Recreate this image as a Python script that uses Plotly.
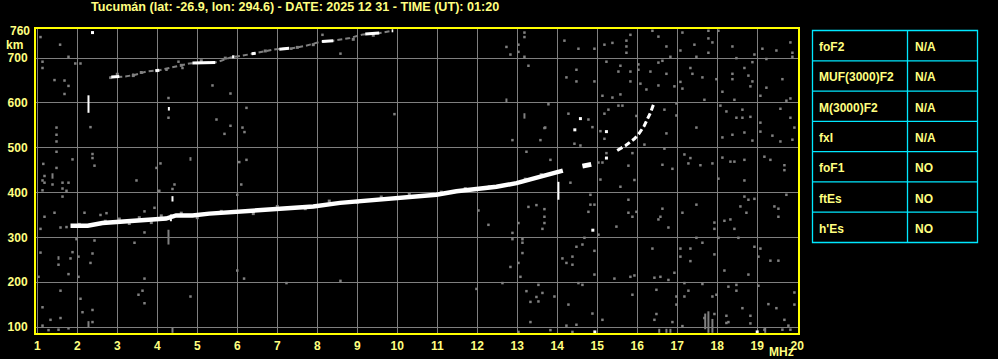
import plotly.graph_objects as go

# ---------------- data ----------------
TITLE = "Tucumán (lat: -26.9, lon: 294.6) - DATE: 2025 12 31 - TIME (UT): 01:20"
x_tick_vals = list(range(1, 21))
x_tick_text = [str(v) for v in x_tick_vals]
y_tick_vals = [100, 200, 300, 400, 500, 600, 700]
y_top_label = 760
x_unit = "MHz"
y_unit = "km"

# main F-trace (virtual height vs frequency)
main_f = [1.83, 2.26, 2.63, 3.22, 3.72, 4.22, 4.47, 4.88, 5.30, 5.97, 6.63, 7.35, 7.90,
          8.57, 9.40, 9.98, 10.48, 10.98, 11.48, 12.07, 12.48, 12.98, 13.48, 13.72, 13.92, 14.14]
main_km = [326, 326, 332, 336, 338, 342, 349, 349, 353, 357, 360, 365, 369,
           377, 384, 388, 393, 395, 403, 408, 413, 421, 433, 437, 444, 449]

blob_f = [14.63, 14.85]
blob_km = [459, 463]

cusp_f = [15.50, 15.71, 15.93, 16.04, 16.17, 16.25, 16.33, 16.43]
cusp_km = [494, 505, 520, 531, 548, 563, 578, 602]

# second-hop trace
upper_f = [2.80, 3.20, 3.45, 3.72, 4.05, 4.50, 4.80, 5.50, 5.85, 6.10, 6.40, 6.97, 7.37,
           7.69, 8.10, 8.40, 8.82, 9.15, 9.57, 9.88]
upper_km = [657, 659, 663, 670, 673, 682, 688, 691, 702, 705, 710, 720, 722,
            727, 737, 739, 745, 753, 756, 761]
upper_white_f = [2.85, 3.05, None, 3.95, 4.05, None, 4.88, 5.45, None, 5.87, 5.93, None,
                 6.36, 6.46, None, 7.05, 7.30, None, 8.12, 8.40, None, 9.20, 9.55, None, 9.86, 9.90]
upper_white_km = [658, 659, None, 672, 673, None, 689, 690, None, 703, 703, None,
                  710, 711, None, 720, 722, None, 737, 739, None, 754, 756, None, 761, 761]

# vertical white echo spikes
spike_f = [2.28, 4.29, 4.38, 4.34, 14.03]
spike_top = [617, 591, 392, 351, 424]
spike_bot = [578, 583, 380, 336, 384]

# isolated white points
white_f = [2.38, 14.58, 14.44, 15.23, 15.23, 14.89, 14.94, 19.00]
white_km = [757, 565, 540, 536, 477, 316, 89, 89]

# grey vertical noise streaks
bar_f = [4.28, 4.38, 1.38, 1.53, 2.28, 4.83, 12.73, 13.18, 17.70, 17.78, 17.88, 16.55, 16.73, 16.83, 19.20]
bar_lo = [284, 87, 431, 250, 100, 471, 600, 565, 95, 87, 87, 87, 87, 87, 87]
bar_hi = [317, 99, 443, 258, 113, 479, 610, 577, 130, 135, 118, 96, 96, 96, 98]

# grey flecks along the traces
fleck_f = [2.05, 2.70, 3.05, 3.30, 3.55, 3.85, 4.10, 4.60, 5.00, 5.60, 6.40, 7.00, 7.70,
           8.30, 9.00, 9.60, 10.30, 11.10, 11.70, 12.30, 12.80, 13.20, 13.60,
           3.00, 3.40, 3.60, 4.60, 5.10, 5.70, 6.70, 7.50, 7.90, 8.90, 9.40]
fleck_km = [329, 336, 341, 331, 344, 333, 348, 354, 344, 358, 353, 369, 364,
            381, 378, 390, 397, 401, 409, 413, 418, 430, 440,
            664, 661, 668, 684, 694, 700, 716, 724, 730, 742, 751]

# grey scattered noise points
noise_f = [1.08, 1.57, 1.78, 1.13, 1.13, 1.95, 2.08, 1.43, 1.68, 1.78, 1.68, 2.83, 3.40, 4.23,
           4.53, 4.63, 5.38, 5.83, 6.23, 5.48, 5.83, 6.13, 6.18, 5.68, 4.28, 4.28, 2.33, 1.48,
           1.48, 1.48, 1.48, 2.38, 2.38, 2.43, 1.88, 1.15, 1.48, 1.18, 1.13, 1.18, 1.63, 1.78,
           1.38, 1.63, 1.73, 1.13, 1.63, 3.48, 3.98, 4.08, 4.43, 4.38, 4.05, 6.00, 6.10, 6.05,
           6.23, 1.43, 1.18, 1.08, 1.58, 1.73, 2.18, 2.58, 2.73, 3.68, 3.93, 3.68, 3.43, 2.43,
           1.98, 1.08, 1.88, 1.83, 2.03, 2.38, 1.53, 2.33, 1.78, 2.03, 1.03, 3.68, 3.63, 3.53,
           3.68, 4.83, 1.58, 2.08, 1.13, 2.38, 2.13, 1.58, 1.33, 2.38, 1.13, 1.28, 1.53, 1.78,
           6.17, 6.00, 7.23,
           8.13, 8.58, 7.35, 13.18, 13.18, 13.03, 13.03, 12.73, 12.83, 13.18, 13.28, 9.93,
           13.68, 12.88, 13.58, 13.23, 12.03, 12.28, 13.28, 13.48, 13.68, 13.68, 13.68, 13.63,
           13.03, 12.88, 12.88, 13.13, 13.13, 13.13, 13.03, 12.83, 13.08, 12.63, 11.98, 13.53,
           13.23, 13.63, 13.48, 13.53, 13.33, 13.33, 13.03, 8.58,
           14.18, 14.53, 14.93, 15.18, 15.38, 15.73, 15.73, 15.83, 15.73, 16.38, 16.53, 17.13,
           16.73, 17.08, 17.43, 17.78, 17.78, 17.88, 17.78, 18.03, 18.38, 18.93, 19.13, 19.48,
           19.83, 19.88, 19.88, 18.48, 18.88, 19.23, 16.83, 16.53, 16.63, 17.48, 15.23, 15.58,
           15.53, 15.83, 16.03, 16.03, 16.33, 16.73, 17.33, 17.38, 14.48, 14.48, 14.23, 14.93,
           15.83, 16.08, 16.53, 16.93, 17.08, 17.13, 17.63, 17.98, 18.13, 18.38, 18.38, 18.68,
           18.78, 18.83, 18.88, 19.23, 19.63, 19.83, 19.73, 19.08, 18.43, 17.68, 16.98, 16.23,
           15.13, 15.38, 15.58, 15.53, 15.63, 15.28, 15.18, 13.78, 14.28, 14.78, 14.88, 13.70,
           15.98, 16.68, 16.98, 18.08, 18.23, 18.63, 18.48, 18.63, 18.83, 19.08, 19.08, 19.93,
           19.83, 19.58, 17.48, 18.13, 18.38, 18.68, 18.88, 19.38, 19.58, 19.88, 16.73, 15.08,
           15.18, 14.43, 14.58, 16.18, 16.68, 15.88, 15.23, 15.13, 15.03, 15.78, 16.63, 16.88,
           17.18, 17.33, 17.28, 17.58, 17.88, 18.13, 18.33, 18.43, 18.68, 19.33, 19.68, 19.68,
           19.18, 18.03, 18.68, 15.93, 15.58, 15.08, 14.33, 13.83, 14.83, 15.78, 14.83, 14.78,
           14.93, 15.98, 15.78, 15.88, 16.58, 16.53, 16.63, 17.13, 17.48, 18.58, 18.68, 18.78,
           18.93, 18.73, 19.43, 19.53, 19.53, 19.73, 18.18, 18.33, 18.43, 17.93, 17.93, 15.48,
           16.78, 15.03, 14.68, 17.48, 18.03, 18.53, 17.63, 18.93, 19.08, 14.48, 14.63, 14.38,
           14.13, 14.23, 14.38, 14.93, 16.38, 17.08, 17.33, 17.08, 17.33, 17.93, 18.18, 18.78,
           19.03, 19.33, 19.53, 14.93, 15.43, 15.83, 15.93, 16.43, 16.58, 16.78, 16.93, 14.53,
           14.63, 17.18, 17.63, 18.28, 18.48, 18.48, 19.03, 15.88, 16.48, 16.98, 16.98, 17.28,
           17.18, 17.88, 17.98, 19.93, 19.93, 19.28, 19.48, 13.93, 14.28, 14.88, 15.13, 14.48,
           14.23, 16.48, 16.43, 16.88, 17.13, 17.68, 17.93, 18.23, 18.23, 18.28, 18.83, 18.83,
           19.78, 19.68, 18.63, 13.83, 14.38, 19.18, 19.63, 19.83]
noise_km = [747, 730, 703, 692, 678, 688, 688, 651, 650, 638, 620, 656, 663, 674,
            692, 678, 639, 621, 589, 563, 549, 545, 535, 531, 611, 567, 546, 545,
            529, 514, 491, 486, 477, 460, 474, 464, 455, 437, 427, 422, 422, 422,
            418, 409, 404, 405, 391, 427, 455, 465, 418, 408, 404, 395, 418, 468,
            473, 355, 346, 319, 322, 323, 355, 350, 354, 358, 366, 311, 288, 293,
            296, 266, 267, 253, 257, 264, 239, 243, 218, 212, 212, 208, 181, 172,
            153, 168, 181, 163, 144, 138, 133, 120, 116, 111, 103, 93, 94, 97,
            208, 226, 198,
            752, 710, 721, 757, 747, 730, 714, 725, 708, 703, 683, 575,
            544, 517, 517, 491, 360, 328, 368, 372, 363, 346, 332, 319,
            332, 310, 296, 296, 288, 265, 243, 234, 212, 198, 185, 194,
            180, 176, 167, 157, 156, 111, 89, 203,
            739, 721, 721, 730, 734, 739, 726, 752, 712, 761, 748, 757,
            726, 717, 730, 761, 744, 735, 712, 761, 726, 708, 721, 717,
            735, 712, 703, 700, 691, 698, 703, 690, 694, 703, 692, 683,
            670, 670, 674, 686, 670, 665, 678, 665, 674, 648, 657, 648,
            648, 643, 639, 637, 647, 632, 657, 653, 625, 665, 653, 678,
            661, 637, 648, 634, 653, 610, 605, 616, 607, 607, 599, 630,
            616, 612, 619, 594, 594, 585, 576, 597, 576, 563, 546, 545,
            571, 585, 572, 594, 581, 585, 567, 567, 569, 556, 536, 545,
            567, 587, 545, 523, 529, 534, 516, 527, 514, 518, 532, 537,
            520, 509, 505, 507, 498, 488, 488, 467, 467, 460, 462, 453,
            485, 477, 465, 461, 465, 478, 469, 469, 473, 473, 461, 450,
            480, 431, 427, 428, 413, 429, 422, 473, 395, 384, 373, 357,
            373, 357, 355, 346, 346, 340, 364, 355, 373, 369, 391, 384,
            386, 355, 369, 364, 346, 395, 337, 340, 319, 333, 319, 324,
            322, 306, 299, 299, 299, 299, 288, 279, 275, 279, 284, 257,
            253, 243, 239, 270, 275, 275, 275, 257, 247, 262, 226, 217,
            257, 248, 248, 217, 208, 212, 215, 210, 212, 205, 221, 198,
            194, 198, 196, 190, 194, 181, 192, 172, 183, 168, 150, 181,
            168, 168, 172, 177, 150, 151, 142, 168, 150, 130, 116, 105,
            103, 129, 116, 111, 102, 120, 129, 125, 109, 111, 125, 108,
            103, 116, 142, 93, 89, 94, 94, 94]

# parameter table
param_names = ["foF2", "MUF(3000)F2", "M(3000)F2", "fxI", "foF1", "ftEs", "h'Es"]
param_values = ["N/A", "N/A", "N/A", "N/A", "NO", "NO", "NO"]

# ---------------- styling / layout ----------------
W, H = 998, 359
PL, PR, PT, PB = 36, 798, 29, 333
TXT = "#ffff80"
AXIS = "#ffff00"
GRID = "#7f7f7f"
NOISE = "#808080"
CYAN = "#00e8ff"
FONT = "Liberation Sans"


def px(x):
    return (x - PL) / (PR - PL)


def py(y):
    return (PB - y) / (PB - PT)


def segs(xs, y0s, y1s):
    X, Y = [], []
    for x, a, b in zip(xs, y0s, y1s):
        X += [x, x, None]
        Y += [a, b, None]
    return X, Y


fig = go.Figure()

# grey streaks
bx, by = segs(bar_f, bar_lo, bar_hi)
fig.add_trace(go.Scatter(x=bx, y=by, mode="lines", line=dict(color=NOISE, width=2),
                         hoverinfo="skip"))
# grey noise
fig.add_trace(go.Scatter(x=noise_f, y=noise_km, mode="markers",
                         marker=dict(symbol="square", size=2.5, color=NOISE, line=dict(width=0)),
                         hoverinfo="skip"))
fig.add_trace(go.Scatter(x=fleck_f, y=fleck_km, mode="markers",
                         marker=dict(symbol="square", size=3, color=NOISE, line=dict(width=0)),
                         hoverinfo="skip"))
# second-hop trace (grey underlay + white pieces)
fig.add_trace(go.Scatter(x=upper_f, y=upper_km, mode="lines",
                         line=dict(color=NOISE, width=2, dash="5px,3px"), hoverinfo="skip"))
fig.add_trace(go.Scatter(x=upper_white_f, y=upper_white_km, mode="lines",
                         line=dict(color="#ffffff", width=3), connectgaps=False, hoverinfo="skip"))
# main trace
fig.add_trace(go.Scatter(x=main_f, y=main_km, mode="lines",
                         line=dict(color="#ffffff", width=4.5), hoverinfo="skip"))
fig.add_trace(go.Scatter(x=blob_f, y=blob_km, mode="lines",
                         line=dict(color="#ffffff", width=5), hoverinfo="skip"))
fig.add_trace(go.Scatter(x=cusp_f, y=cusp_km, mode="lines",
                         line=dict(color="#ffffff", width=3, dash="6px,3px"), hoverinfo="skip"))
# spikes
sx, sy = segs(spike_f, spike_bot, spike_top)
fig.add_trace(go.Scatter(x=sx, y=sy, mode="lines", line=dict(color="#ffffff", width=2),
                         hoverinfo="skip"))
fig.add_trace(go.Scatter(x=white_f, y=white_km, mode="markers",
                         marker=dict(symbol="square", size=3, color="#ffffff", line=dict(width=0)),
                         hoverinfo="skip"))

tickfont = dict(family=FONT, size=12, color=TXT, weight="bold")

fig.update_layout(
    width=W, height=H,
    margin=dict(l=PL, r=W - PR, t=PT, b=H - PB, pad=0, autoexpand=False),
    paper_bgcolor="#000000", plot_bgcolor="#000000",
    showlegend=False,
    xaxis=dict(range=[0.9675, 20.02], tickvals=x_tick_vals, ticktext=x_tick_text,
               showgrid=True, gridcolor=GRID, gridwidth=1, zeroline=False,
               showline=True, linecolor=AXIS, linewidth=2, mirror=True, automargin=False,
               ticks="", tickfont=tickfont, ticklabelstandoff=1, fixedrange=True),
    yaxis=dict(range=[86.6, 765], tickvals=y_tick_vals,
               showgrid=True, gridcolor=GRID, gridwidth=1, zeroline=False,
               showline=True, linecolor=AXIS, linewidth=2, mirror=True, automargin=False,
               ticks="", tickfont=tickfont, ticklabelstandoff=4, fixedrange=True),
)

ann = []
ann.append(dict(text=TITLE, x=px(295), y=py(7.5), xref="paper", yref="paper",
                xanchor="center", yanchor="middle", showarrow=False,
                font=dict(family=FONT, size=12.6, color=TXT, weight="bold")))
ann.append(dict(text=str(y_top_label), x=px(32), y=y_top_label, xref="paper", yref="y",
                xanchor="right", yanchor="middle", showarrow=False, font=tickfont))
ann.append(dict(text=y_unit, x=px(14), y=py(45), xref="paper", yref="paper",
                xanchor="center", yanchor="middle", showarrow=False, font=tickfont))
ann.append(dict(text=x_unit, x=px(781), y=py(352), xref="paper", yref="paper",
                xanchor="center", yanchor="middle", showarrow=False, font=tickfont))

# table
TX0, TX1, TXM = 812.5, 977.5, 907.5
TY0, TY1 = 30.5, 242.5
n = len(param_names)
rh = (TY1 - TY0) / n
shapes = [dict(type="rect", xref="paper", yref="paper", x0=px(TX0), x1=px(TX1),
               y0=py(TY1), y1=py(TY0), line=dict(color=CYAN, width=1.3))]
shapes.append(dict(type="line", xref="paper", yref="paper", x0=px(TXM), x1=px(TXM),
                   y0=py(TY1), y1=py(TY0), line=dict(color=CYAN, width=1.3)))
for i in range(1, n):
    yy = TY0 + i * rh
    shapes.append(dict(type="line", xref="paper", yref="paper", x0=px(TX0), x1=px(TX1),
                       y0=py(yy), y1=py(yy), line=dict(color=CYAN, width=1.3)))
for i, (nm, val) in enumerate(zip(param_names, param_values)):
    yc = TY0 + (i + 0.5) * rh + 1.5
    ann.append(dict(text=nm, x=px(817), y=py(yc), xref="paper", yref="paper",
                    xanchor="left", yanchor="middle", showarrow=False,
                    font=dict(family=FONT, size=12, color=TXT, weight="bold")))
    ann.append(dict(text=val, x=px(912.5), y=py(yc), xref="paper", yref="paper",
                    xanchor="left", yanchor="middle", showarrow=False,
                    font=dict(family=FONT, size=12, color=TXT, weight="bold")))

fig.update_layout(annotations=ann, shapes=shapes)
fig.write_html("out.html")
